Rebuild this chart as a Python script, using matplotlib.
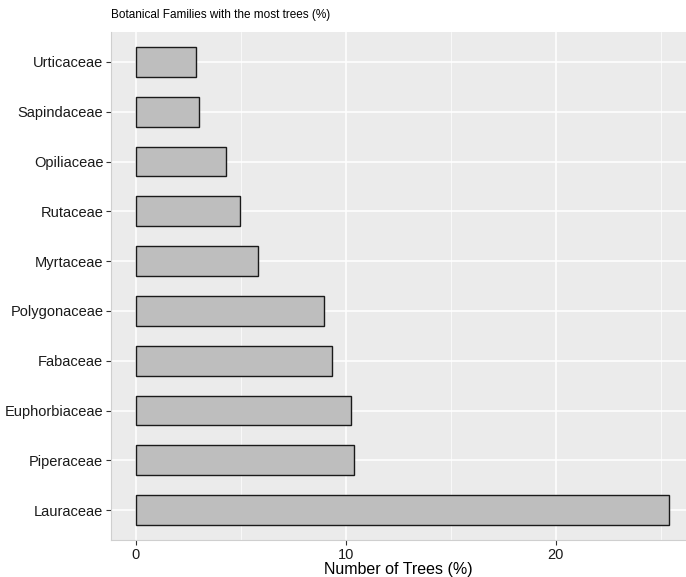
import numpy as np
import matplotlib
matplotlib.use("Agg")
import matplotlib.pyplot as plt
from matplotlib.ticker import MultipleLocator

plt.rcParams['font.family'] = ['Liberation Sans', 'DejaVu Sans']

families = ["Lauraceae", "Piperaceae", "Euphorbiaceae", "Fabaceae", "Polygonaceae",
            "Myrtaceae", "Rutaceae", "Opiliaceae", "Sapindaceae", "Urticaceae"]
percent = [25.4, 10.4, 10.25, 9.35, 8.95, 5.8, 4.95, 4.3, 3.0, 2.85]

fig = plt.figure(figsize=(6.86, 5.77), dpi=100)
ax = fig.add_axes([0.1618, 0.0641, 1 - 0.1618, 0.9445 - 0.0641])

ax.set_facecolor("#EBEBEB")
ypos = np.arange(1, len(families) + 1)
ax.barh(ypos, percent, height=0.6, color="#BEBEBE", edgecolor="#1a1a1a",
        linewidth=1.0, zorder=3)

ax.set_xlim(-1.19, 26.2)
ax.set_ylim(0.4, 10.6)
ax.xaxis.set_major_locator(MultipleLocator(10))
ax.xaxis.set_minor_locator(MultipleLocator(5))
ax.set_yticks(ypos)
ax.set_yticklabels(families)

ax.grid(which="major", color="white", linewidth=1.1, zorder=0)
ax.grid(which="minor", axis="x", color="white", linewidth=0.5, zorder=0)
ax.set_axisbelow(True)

# faint panel edge on left and bottom
for side in ["top", "right"]:
    ax.spines[side].set_visible(False)
for side in ["left", "bottom"]:
    ax.spines[side].set_color("#CFCFCF")
    ax.spines[side].set_linewidth(0.8)

ax.tick_params(axis="both", which="major", length=3.5, width=0.8, color="#333333",
               labelsize=10.5, labelcolor="#1a1a1a", pad=2)
ax.tick_params(axis="x", which="minor", length=0)

ax.set_xlabel("Number of Trees (%)", fontsize=11.5, color="black", labelpad=0)
fig.text(0.1618, 0.963, "Botanical Families with the most trees (%)",
         fontsize=8.5, color="black", ha="left", va="bottom")

fig.savefig("out.png", dpi=100)
